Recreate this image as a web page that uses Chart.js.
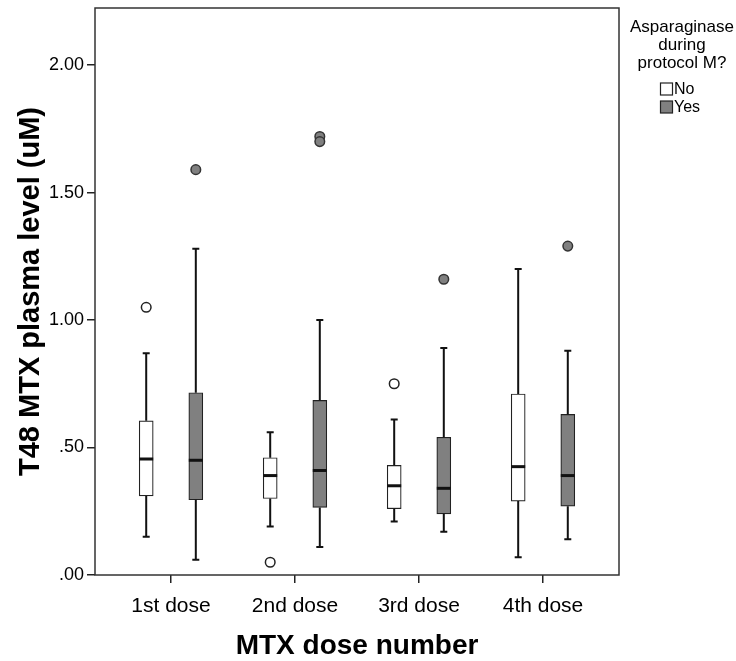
<!DOCTYPE html>
<html>
<head>
<meta charset="utf-8">
<script src="https://cdn.jsdelivr.net/npm/chart.js@4.4.0/dist/chart.umd.min.js"></script>
<style>
  html, body { margin: 0; padding: 0; background: #fff; }
  #wrap { width: 736px; height: 661px; }
</style>
</head>
<body>
<div id="wrap"><canvas id="boxCanvas" width="736" height="661"></canvas></div>
<script>
// Categories and tick labels
const categories = ['1st dose', '2nd dose', '3rd dose', '4th dose'];
const yTickValues = [0, 0.5, 1, 1.5, 2];
const yTickLabels = ['.00', '.50', '1.00', '1.50', '2.00'];

// "No" group (white boxes)
const noMin = [0.15, 0.19, 0.21, 0.07];
const noQ1 = [0.31, 0.30, 0.26, 0.29];
const noMedian = [0.455, 0.39, 0.35, 0.425];
const noQ3 = [0.605, 0.46, 0.43, 0.71];
const noMax = [0.87, 0.56, 0.61, 1.20];
const noOutliers = [[1.05], [0.05], [0.75], []];

// "Yes" group (grey boxes)
const yesMin = [0.06, 0.11, 0.17, 0.14];
const yesQ1 = [0.295, 0.265, 0.24, 0.27];
const yesMedian = [0.45, 0.41, 0.34, 0.39];
const yesQ3 = [0.715, 0.685, 0.54, 0.63];
const yesMax = [1.28, 1.00, 0.89, 0.88];
const yesOutliers = [[1.59], [1.72, 1.70], [1.16], [1.29]];

const FONT = "'Liberation Sans', Arial, sans-serif";
const GROUP_SHIFT = 0.2;   // x offset of each box from its category centre
const BOX_PX = 14;
const greyFill = '#808080';

function boxData(q1, q3, shift) {
    return categories.map((c, i) => ({ x: i + 1 + shift, y: [q1[i], q3[i]] }));
}

function outlierData(list, shift) {
    const pts = [];
    list.forEach((vals, i) => vals.forEach(v => pts.push({ x: i + 1 + shift, y: v })));
    return pts;
}

const groups = [
    { label: 'No', fill: '#ffffff', shift: -GROUP_SHIFT, min: noMin, med: noMedian, q1: noQ1, q3: noQ3, max: noMax },
    { label: 'Yes', fill: greyFill, shift: GROUP_SHIFT, min: yesMin, med: yesMedian, q1: yesQ1, q3: yesQ3, max: yesMax }
];

// whiskers, caps and medians
const whiskerPlugin = {
    id: 'whiskers',
    afterDatasetsDraw(chart) {
        const c = chart.ctx;
        const xs = chart.scales.x, ys = chart.scales.y;
        c.save();
        c.strokeStyle = '#111';
        groups.forEach(g => {
            categories.forEach((cat, i) => {
                const x = xs.getPixelForValue(i + 1 + g.shift);
                c.lineWidth = 2;
                c.beginPath();
                c.moveTo(x, ys.getPixelForValue(g.q3[i]));
                c.lineTo(x, ys.getPixelForValue(g.max[i]));
                c.moveTo(x, ys.getPixelForValue(g.q1[i]));
                c.lineTo(x, ys.getPixelForValue(g.min[i]));
                c.stroke();
                c.beginPath();
                c.moveTo(x - 3.5, ys.getPixelForValue(g.max[i]));
                c.lineTo(x + 3.5, ys.getPixelForValue(g.max[i]));
                c.moveTo(x - 3.5, ys.getPixelForValue(g.min[i]));
                c.lineTo(x + 3.5, ys.getPixelForValue(g.min[i]));
                c.stroke();
                c.lineWidth = 3;
                c.beginPath();
                c.moveTo(x - BOX_PX / 2, ys.getPixelForValue(g.med[i]));
                c.lineTo(x + BOX_PX / 2, ys.getPixelForValue(g.med[i]));
                c.stroke();
            });
        });
        c.restore();
    }
};

// frame round the plot area and the legend at the right
const framePlugin = {
    id: 'frame',
    afterDraw(chart) {
        const c = chart.ctx;
        const a = chart.chartArea;
        c.save();
        c.strokeStyle = '#333';
        c.lineWidth = 1.5;
        c.strokeRect(a.left, a.top, a.right - a.left, a.bottom - a.top);

        c.fillStyle = '#000';
        c.textAlign = 'center';
        c.textBaseline = 'middle';
        c.font = '17px ' + FONT;
        ['Asparaginase', 'during', 'protocol M?'].forEach((t, k) => c.fillText(t, 682, 27 + k * 18));

        c.textAlign = 'left';
        c.font = '16px ' + FONT;
        groups.forEach((g, k) => {
            const y = 89 + k * 18;
            c.fillStyle = g.fill;
            c.fillRect(660.5, y - 6, 12, 12);
            c.strokeStyle = '#222';
            c.lineWidth = 1.2;
            c.strokeRect(660.5, y - 6, 12, 12);
            c.fillStyle = '#000';
            c.fillText(g.label, 674, y + 1);
        });
        c.restore();
    }
};

const ctx = document.getElementById('boxCanvas').getContext('2d');
const chart = new Chart(ctx, {
    type: 'bar',
    data: {
        datasets: [
            {
                label: 'No',
                data: boxData(noQ1, noQ3, -GROUP_SHIFT),
                backgroundColor: '#ffffff',
                borderColor: '#222',
                borderWidth: 1.2,
                borderSkipped: false,
                barThickness: BOX_PX,
                grouped: false
            },
            {
                label: 'Yes',
                data: boxData(yesQ1, yesQ3, GROUP_SHIFT),
                backgroundColor: greyFill,
                borderColor: '#222',
                borderWidth: 1.2,
                borderSkipped: false,
                barThickness: BOX_PX,
                grouped: false
            },
            {
                type: 'scatter',
                label: 'No outliers',
                data: outlierData(noOutliers, -GROUP_SHIFT),
                pointRadius: 4.8,
                pointBackgroundColor: '#ffffff',
                pointBorderColor: '#222',
                pointBorderWidth: 1.5
            },
            {
                type: 'scatter',
                label: 'Yes outliers',
                data: outlierData(yesOutliers, GROUP_SHIFT),
                pointRadius: 4.8,
                pointBackgroundColor: greyFill,
                pointBorderColor: '#333',
                pointBorderWidth: 1.5
            }
        ]
    },
    options: {
        responsive: false,
        animation: false,
        layout: { padding: { top: 8, right: 117, left: 0, bottom: 0 } },
        plugins: {
            legend: { display: false },
            tooltip: { enabled: false }
        },
        scales: {
            x: {
                type: 'linear',
                offset: false,
                min: 0.387,
                max: 4.613,
                afterBuildTicks: scale => { scale.ticks = categories.map((c, i) => ({ value: i + 1 })); },
                afterFit: scale => { scale.height = 86; scale.paddingLeft = 0; scale.paddingRight = 0; },
                ticks: {
                    callback: (v, i) => categories[i],
                    color: '#000',
                    font: { family: FONT, size: 21 },
                    padding: 11,
                    maxRotation: 0,
                    autoSkip: false
                },
                grid: { offset: false, drawOnChartArea: false, drawTicks: true, tickLength: 8, color: '#222', lineWidth: 1.5 },
                border: { display: false },
                title: {
                    display: true,
                    text: 'MTX dose number',
                    color: '#000',
                    font: { family: FONT, size: 28, weight: 'bold' },
                    padding: { top: 0, bottom: -2 }
                }
            },
            y: {
                min: 0,
                max: 2.224,
                afterBuildTicks: scale => { scale.ticks = yTickValues.map(v => ({ value: v })); },
                afterFit: scale => { scale.width = 95; scale.paddingTop = 0; scale.paddingBottom = 0; },
                ticks: {
                    callback: (v, i) => yTickLabels[i],
                    color: '#000',
                    font: { family: FONT, size: 18 },
                    padding: 3
                },
                grid: { drawOnChartArea: false, drawTicks: true, tickLength: 8, color: '#222', lineWidth: 1.5 },
                border: { display: false },
                title: {
                    display: true,
                    text: 'T48 MTX plasma level (uM)',
                    color: '#000',
                    font: { family: FONT, size: 29, weight: 'bold' },
                    padding: { top: 14, bottom: 0 }
                }
            }
        }
    },
    plugins: [whiskerPlugin, framePlugin]
});
</script>
</body>
</html>
